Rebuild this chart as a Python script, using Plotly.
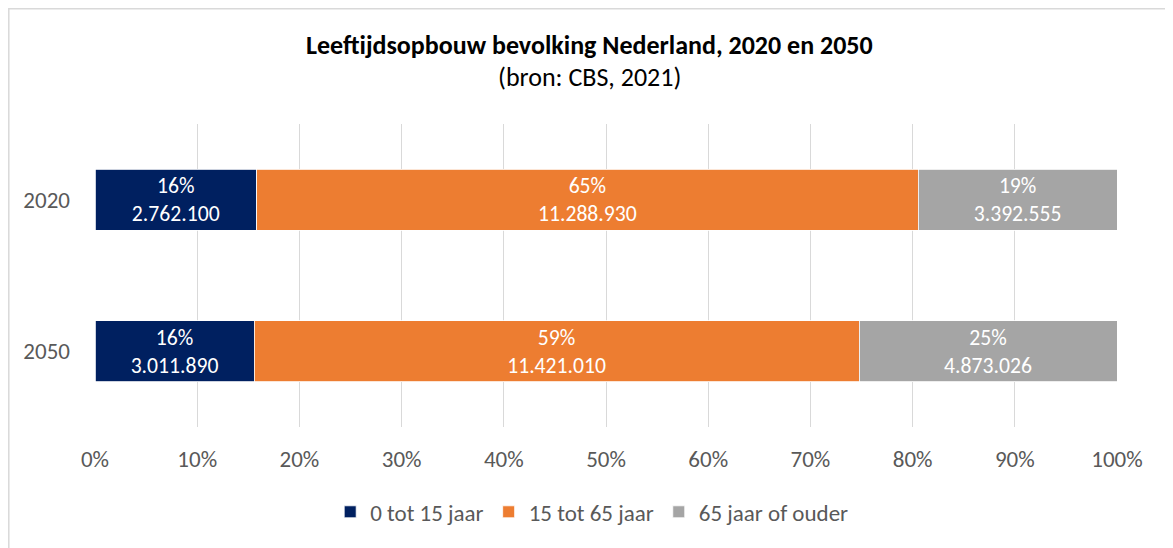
import plotly.graph_objects as go

years = ["2020", "2050"]
groups = ["0 tot 15 jaar", "15 tot 65 jaar", "65 jaar of ouder"]
values_0_15 = [2762100, 3011890]
values_15_65 = [11288930, 11421010]
values_65plus = [3392555, 4873026]
colors = ["#002060", "#ED7D31", "#A5A5A5"]
x_ticks = [0, 10, 20, 30, 40, 50, 60, 70, 80, 90, 100]
x_ticklabels = [f"{t}%" for t in x_ticks]

series = [values_0_15, values_15_65, values_65plus]
totals = [sum(s[i] for s in series) for i in range(len(years))]

FONT = "Calibri, Carlito, Lato, sans-serif"

# page is offset by the default 8px body margin; compensate in the margins
W, H = 1165, 540
L, R, T, B = 87, 56, 116, 121
PW, PH = W - L - R, H - T - B

fig = go.Figure()
for name, vals, col in zip(groups, series, colors):
    labels = []
    for i, v in enumerate(vals):
        pct = round(100 * v / totals[i])
        num = f"{v:,}".replace(",", ".")
        labels.append(f"{pct}%<br>{num}")
    fig.add_trace(go.Bar(
        y=years, x=vals, name=name, orientation="h",
        marker=dict(color=col, line=dict(color="white", width=0.8)),
        text=labels, textposition="inside", insidetextanchor="middle",
        textfont=dict(color="white", size=23, family=FONT),
        hoverinfo="skip",
    ))

fig.update_layout(
    barmode="stack", barnorm="percent", bargap=0.6,
    width=W, height=H,
    margin=dict(l=L, r=R, t=T, b=B),
    paper_bgcolor="white", plot_bgcolor="white",
    font=dict(family=FONT, size=23, color="#595959"),
    showlegend=True,
    legend=dict(orientation="h", x=0.486, xanchor="center", y=-0.28, yanchor="middle",
                font=dict(size=23, color="#595959"), traceorder="normal",
                itemwidth=30, bgcolor="rgba(0,0,0,0)"),
    xaxis=dict(range=[0, 100], tickvals=x_ticks, ticktext=x_ticklabels,
               showgrid=True, gridcolor="#D9D9D9", gridwidth=1.3,
               zeroline=False, showline=False, ticks="", ticklabelstandoff=16,
               tickfont=dict(size=23, color="#595959")),
    yaxis=dict(type="category", autorange="reversed", showgrid=False, zeroline=False,
               showline=False, ticks="", ticklabelstandoff=24,
               tickfont=dict(size=23, color="#595959")),
    annotations=[
        dict(text="<b>Leeftijdsopbouw bevolking Nederland, 2020 en 2050</b>",
             xref="paper", yref="paper", x=0.484, y=(427 - 45) / 303,
             xanchor="center", yanchor="middle", showarrow=False,
             font=dict(size=26, color="#000000", family=FONT)),
        dict(text="(bron: CBS, 2021)",
             xref="paper", yref="paper", x=0.484, y=(427 - 77) / 303,
             xanchor="center", yanchor="middle", showarrow=False,
             font=dict(size=26, color="#000000", family=FONT)),
    ],
    shapes=[dict(type="rect", xref="paper", yref="paper",
                 x0=(0.8 - L) / PW, x1=1.2, y0=-0.6, y1=1 + (T - 0.8) / PH,
                 line=dict(color="#D9D9D9", width=1.5), fillcolor="rgba(0,0,0,0)", layer="below")],
)

fig.write_html("out.html")
